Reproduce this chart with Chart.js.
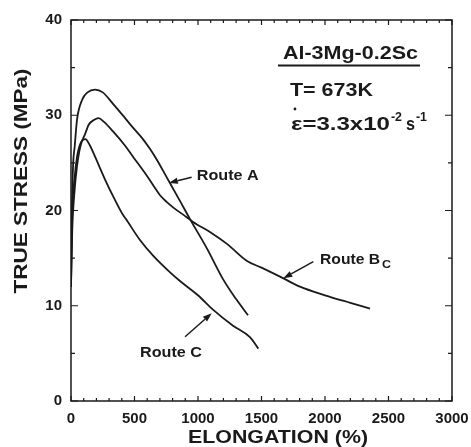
<!DOCTYPE html>
<html><head><meta charset="utf-8">
<script src="https://cdn.jsdelivr.net/npm/chart.js@4/dist/chart.umd.min.js"></script>
<style>html,body{margin:0;padding:0;background:#fff;}#wrap{width:471px;height:447px;}</style>
</head><body><div id="wrap"><canvas id="c" width="471" height="447"></canvas></div>
<script>
// ---- data (elongation %, true stress MPa) ----
const routeA_x = [0, 6, 16, 29, 47, 87, 130, 189, 250, 331, 420, 488, 560, 620, 677, 753, 850, 937, 1071, 1197, 1300, 1394];
const routeA_y = [12, 19, 24.6, 26.7, 29.5, 31.6, 32.4, 32.7, 32.4, 31.2, 29.8, 28.7, 27.6, 26.5, 25.3, 23.5, 21.2, 19.1, 16.0, 12.8, 10.7, 9.0];
const routeB_x = [0, 10, 29, 47, 73, 113, 139, 180, 217, 260, 331, 420, 491, 600, 660, 701, 753, 806, 911, 961, 1100, 1228, 1386, 1500, 1669, 1803, 2000, 2200, 2354];
const routeB_y = [12, 18, 22.2, 24.6, 26.7, 28.1, 29.0, 29.5, 29.7, 29.3, 28.3, 26.9, 25.6, 23.6, 22.4, 21.6, 20.9, 20.3, 19.3, 18.8, 17.7, 16.5, 14.7, 14.0, 12.9, 12.0, 11.1, 10.3, 9.7];
const routeC_x = [0, 8, 29, 47, 73, 113, 150, 191, 270, 335, 402, 438, 543, 650, 780, 858, 1000, 1118, 1276, 1409, 1475];
const routeC_y = [12, 19, 23.5, 25.6, 27.0, 27.5, 26.8, 25.6, 23.2, 21.4, 19.7, 19.0, 16.9, 15.2, 13.5, 12.6, 11.1, 9.6, 7.9, 6.7, 5.5];
const xTicks = [0, 500, 1000, 1500, 2000, 2500, 3000];
const yTicks = [0, 10, 20, 30, 40];
const seriesNames = ['Route A', 'Route B', 'Route C'];

function pts(xs, ys) { return xs.map((x, i) => ({ x: x, y: ys[i] })); }

const FONT = '"Liberation Sans", Arial, Helvetica, sans-serif';
const INK = '#1a1a1a';

// annotation layout (in data units, placed through the scales)
const labels = [
  { text: 'Route A', x: 990, y: 23.2, w: 62 },
  { text: 'Route B', sub: 'C', x: 1961, y: 14.38, w: 60 },
  { text: 'Route C', x: 543, y: 4.59, w: 62 }
];
const arrows = [
  { from: [950, 23.48], to: [770, 22.9] },
  { from: [1908, 14.63], to: [1672, 12.88] },
  { from: [898, 6.75], to: [1108, 9.21] }
];

function stretchText(ctx, text, x, y, font, targetW, align) {
  ctx.save();
  ctx.font = font;
  const w = ctx.measureText(text).width;
  const s = targetW ? targetW / w : 1;
  ctx.translate(x, y);
  ctx.scale(s, 1);
  ctx.textAlign = align || 'left';
  ctx.fillText(text, 0, 0);
  ctx.restore();
  return w * s;
}

const decor = {
  id: 'decor',
  afterDraw(chart) {
    const ctx = chart.ctx;
    const a = chart.chartArea;
    const xs = chart.scales.x, ys = chart.scales.y;
    const X = v => xs.getPixelForValue(v), Y = v => ys.getPixelForValue(v);
    ctx.save();
    ctx.strokeStyle = INK; ctx.fillStyle = INK;
    // frame
    ctx.lineWidth = 1.5;
    ctx.strokeRect(a.left, a.top, a.right - a.left, a.bottom - a.top);
    // inward ticks
    ctx.lineWidth = 1.2;
    ctx.beginPath();
    for (let v = 0; v <= 3000; v += 100) {
      const p = X(v);
      const L = v % 500 === 0 ? 5 : 3;
      ctx.moveTo(p, a.bottom); ctx.lineTo(p, a.bottom - L);
      ctx.moveTo(p, a.top); ctx.lineTo(p, a.top + L);
    }
    for (let v = 0; v <= 40; v += 5) {
      const p = Y(v);
      const L = v % 10 === 0 ? 7 : 4;
      ctx.moveTo(a.left, p); ctx.lineTo(a.left + L, p);
      ctx.moveTo(a.right, p); ctx.lineTo(a.right - L, p);
    }
    ctx.stroke();

    // axis titles
    ctx.textBaseline = 'alphabetic';
    stretchText(ctx, 'ELONGATION (%)', 278, 443, 'bold 19px ' + FONT, 180, 'center');
    ctx.save();
    ctx.translate(27, 181);
    ctx.rotate(-Math.PI / 2);
    stretchText(ctx, 'TRUE STRESS (MPa)', 0, 0, 'bold 19px ' + FONT, 225, 'center');
    ctx.restore();

    // condition box text
    const tx = X(1669), ty = Y(35.88);
    stretchText(ctx, 'Al-3Mg-0.2Sc', tx, ty, 'bold 19px ' + FONT, 135);
    ctx.lineWidth = 2;
    ctx.beginPath(); ctx.moveTo(X(1630), Y(35.21)); ctx.lineTo(X(2748), Y(35.21)); ctx.stroke();
    stretchText(ctx, 'T= 673K', X(1724), Y(32.02), 'bold 19px ' + FONT, 83);
    let ex = X(1732), ey = Y(28.45);
    let w = stretchText(ctx, 'ε=3.3x10', ex, ey, 'bold 19px ' + FONT, 99);
    ctx.beginPath(); ctx.arc(ex + 4, ey - 21, 1.4, 0, Math.PI * 2); ctx.fill();
    let cx = ex + w + 1;
    w = stretchText(ctx, '-2', cx, ey - 9, 'bold 12px ' + FONT, 11);
    cx += w + 4;
    w = stretchText(ctx, 's', cx, ey, 'bold 19px ' + FONT, 9);
    cx += w + 1;
    stretchText(ctx, '-1', cx, ey - 9, 'bold 12px ' + FONT, 11);

    // route labels
    labels.forEach(l => {
      const lx = X(l.x), ly = Y(l.y);
      const ww = stretchText(ctx, l.text, lx, ly, 'bold 15px ' + FONT, l.w);
      if (l.sub) stretchText(ctx, l.sub, lx + ww + 2, ly + 4, 'bold 11px ' + FONT, 9);
    });
    // arrows
    ctx.lineWidth = 1.5;
    arrows.forEach(ar => {
      const x1 = X(ar.from[0]), y1 = Y(ar.from[1]), x2 = X(ar.to[0]), y2 = Y(ar.to[1]);
      const ang = Math.atan2(y2 - y1, x2 - x1);
      const hl = 9, hw = 3.2;
      const bx = x2 - hl * Math.cos(ang), by = y2 - hl * Math.sin(ang);
      ctx.beginPath(); ctx.moveTo(x1, y1); ctx.lineTo(bx, by); ctx.stroke();
      ctx.beginPath();
      ctx.moveTo(x2, y2);
      ctx.lineTo(bx + hw * Math.sin(ang), by - hw * Math.cos(ang));
      ctx.lineTo(bx - hw * Math.sin(ang), by + hw * Math.cos(ang));
      ctx.closePath(); ctx.fill();
    });
    ctx.restore();
  }
};

const ds = (name, xs, ys) => ({
  label: name, data: pts(xs, ys), borderColor: INK, borderWidth: 1.8,
  pointRadius: 0, fill: false, cubicInterpolationMode: 'monotone'
});

new Chart(document.getElementById('c'), {
  type: 'line',
  data: { datasets: [
    ds(seriesNames[0], routeA_x, routeA_y),
    ds(seriesNames[1], routeB_x, routeB_y),
    ds(seriesNames[2], routeC_x, routeC_y)
  ] },
  options: {
    responsive: false, animation: false, parsing: true,
    layout: { padding: { top: 20, right: 19, left: 0, bottom: 0 } },
    plugins: { legend: { display: false }, tooltip: { enabled: false } },
    scales: {
      x: {
        type: 'linear', min: 0, max: 3000,
        afterBuildTicks: s => { s.ticks = xTicks.map(v => ({ value: v })); },
        afterFit: s => { s.height = 46; s.paddingLeft = 0; s.paddingRight = 0; },
        grid: { display: false, drawTicks: false }, border: { display: false },
        ticks: { color: INK, font: { family: FONT, size: 15, weight: 'bold' }, padding: 9, maxRotation: 0, autoSkip: false, callback: v => String(v) }
      },
      y: {
        type: 'linear', min: 0, max: 40,
        afterBuildTicks: s => { s.ticks = yTicks.map(v => ({ value: v })); },
        afterFit: s => { s.width = 71; s.paddingTop = 0; s.paddingBottom = 0; },
        grid: { display: false, drawTicks: false }, border: { display: false },
        ticks: { color: INK, font: { family: FONT, size: 15, weight: 'bold' }, padding: 9, callback: v => String(v) }
      }
    }
  },
  plugins: [decor]
});
</script></body></html>
